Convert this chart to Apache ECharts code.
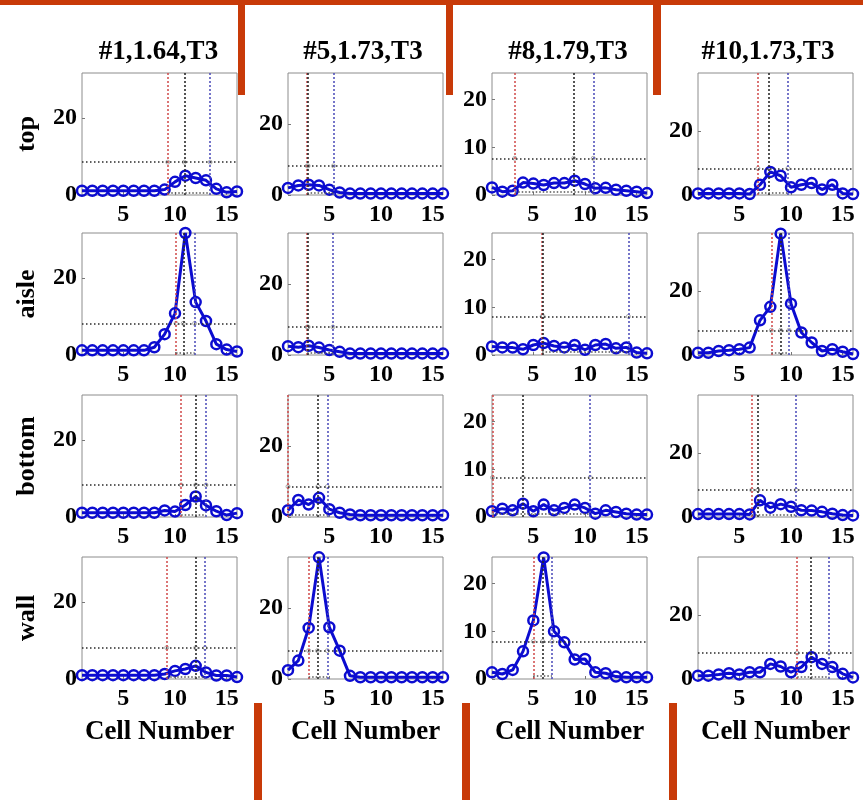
<!DOCTYPE html>
<html><head><meta charset="utf-8">
<script src="https://cdn.jsdelivr.net/npm/echarts@6/dist/echarts.min.js"></script>
<style>html,body{margin:0;padding:0;background:#fff}#c{width:863px;height:800px}</style>
</head><body><div id="c"></div>
<script>
// ---- data ----
const cells = [1,2,3,4,5,6,7,8,9,10,11,12,13,14,15,16];
const titles = ['#1,1.64,T3', '#5,1.73,T3', '#8,1.79,T3', '#10,1.73,T3'];
const rowNames = ['top', 'aisle', 'bottom', 'wall'];
const xAxisName = 'Cell Number';
const xTicks = [5, 10, 15];
const yTicks = [[0, 20], [0, 20], [0, 10, 20], [0, 20]];
const yMax = [31.6, 34.4, 25.6, 38];

// column 1 (#1)
const top_1    = [1.1,1.1,1.1,1.1,1.1,1.1,1.1,1.1,1.4,3.4,5.0,4.4,3.8,1.6,0.7,0.9];
const aisle_1  = [1.2,1.2,1.2,1.2,1.2,1.2,1.2,2.0,5.4,10.8,31.6,13.7,8.8,2.8,1.4,0.9];
const bottom_1 = [1.1,1.1,1.1,1.1,1.1,1.1,1.1,1.1,1.7,1.4,3.1,5.3,3.0,1.5,0.5,1.0];
const wall_1   = [1.0,1.0,1.0,1.0,1.0,1.0,1.0,1.0,1.3,2.1,2.6,3.4,1.7,0.9,0.9,0.5];
// column 2 (#5)
const top_2    = [2.0,2.7,2.9,2.7,1.5,0.7,0.4,0.4,0.4,0.4,0.4,0.4,0.4,0.4,0.4,0.4];
const aisle_2  = [2.5,2.2,2.6,2.1,1.4,0.9,0.4,0.4,0.4,0.4,0.4,0.4,0.4,0.4,0.4,0.4];
const bottom_2 = [1.9,4.8,3.5,5.4,2.2,1.2,0.7,0.5,0.5,0.5,0.5,0.5,0.5,0.5,0.5,0.5];
const wall_2   = [2.5,5.2,14.4,34.3,14.6,8.0,0.9,0.5,0.5,0.5,0.5,0.5,0.5,0.5,0.5,0.5];
// column 3 (#8)
const top_3    = [1.6,0.7,0.9,2.6,2.4,2.1,2.5,2.5,3.0,2.3,1.4,1.5,1.1,0.9,0.7,0.4];
const aisle_3  = [1.8,1.6,1.55,1.2,2.1,2.5,1.9,1.6,2.1,1.1,2.1,2.3,1.4,1.6,0.5,0.35];
const bottom_3 = [1.2,1.75,1.4,2.8,1.2,2.6,1.4,1.9,2.6,1.9,0.7,1.4,1.05,0.7,0.5,0.5];
const wall_3   = [1.4,1.05,1.9,5.8,12.3,25.5,10.0,7.7,4.1,4.2,1.4,1.2,0.5,0.35,0.35,0.35];
// column 4 (#10)
const top_4    = [0.5,0.5,0.5,0.5,0.5,0.3,3.2,7.2,6.0,2.4,3.2,3.7,1.7,3.2,0.5,0.3];
const aisle_4  = [0.7,0.7,1.25,1.5,1.8,2.3,10.8,15.0,37.8,16.0,7.0,3.9,1.25,1.8,1.0,0.3];
const bottom_4 = [0.9,0.9,0.9,0.9,0.9,0.8,5.2,2.9,4.0,3.2,2.1,2.0,1.6,1.0,0.6,0.5];
const wall_4   = [1.05,1.05,1.4,1.8,1.4,2.1,2.1,4.7,3.9,2.1,3.7,6.8,4.7,3.7,1.6,0.5];

// vertical reference lines [red, black, blue] per panel (rows top..wall)
const vlines_1 = [[9.3,10.9,13.4],[10.1,10.8,11.9],[10.6,12.0,13.0],[9.2,12.0,12.9]];
const vlines_2 = [[2.85,2.95,5.4],[2.85,2.95,5.35],[1.0,3.9,4.8],[3.0,3.85,4.8]];
const vlines_3 = [[3.2,8.9,10.8],[5.85,5.95,14.2],[1.05,4.0,10.5],[5.0,5.9,6.8]];
const vlines_4 = [[6.8,7.85,9.7],[8.1,9.0,9.8],[6.2,6.8,10.5],[10.6,11.9,13.7]];
// horizontal threshold per panel (rows top..wall)
const thresh_1 = [8.5, 8.2, 8.3, 8.1];
const thresh_2 = [8.2, 7.9, 8.6, 8.0];
const thresh_3 = [7.7, 8.1, 8.3, 7.9];
const thresh_4 = [8.3, 7.7, 8.4, 8.1];
// low level segment between red and blue lines
const lowLevel = [0.7, 0.7, 0.7, 0.7];

// ---- build ----
const values = [[top_1,aisle_1,bottom_1,wall_1],[top_2,aisle_2,bottom_2,wall_2],[top_3,aisle_3,bottom_3,wall_3],[top_4,aisle_4,bottom_4,wall_4]];
const vlines = [vlines_1, vlines_2, vlines_3, vlines_4];
const thresh = [thresh_1, thresh_2, thresh_3, thresh_4];

const FONT = '"Liberation Serif","Times New Roman",serif';
const BLUE = '#0c0cd0';
const colLeft = [82, 288, 492, 698], colW = 155;
const rowTop = [73, 233, 395, 557], rowH = 122;
const titleX = [158.5, 363, 568, 768];

const grids = [], xAxes = [], yAxes = [], series = [];
for (let r = 0; r < 4; r++) {
  for (let c = 0; c < 4; c++) {
    const idx = grids.length;
    grids.push({left: colLeft[c], top: rowTop[r], width: colW, height: rowH, show: true, borderColor: '#8c8c8c', borderWidth: 1});
    xAxes.push({
      type: 'value', gridIndex: idx, min: 1, max: 16,
      axisLine: {show: false}, splitLine: {show: false},
      axisTick: {show: true, inside: true, length: 3, customValues: xTicks, lineStyle: {color: '#777'}},
      axisLabel: {customValues: xTicks, margin: 8, fontFamily: FONT, fontWeight: 'bold', fontSize: 24, color: '#000'},
      name: r === 3 ? xAxisName : '', nameLocation: 'middle', nameGap: 40,
      nameTextStyle: {fontFamily: FONT, fontWeight: 'bold', fontSize: 27, color: '#000'}
    });
    yAxes.push({
      type: 'value', gridIndex: idx, min: 0, max: yMax[c],
      axisLine: {show: false}, splitLine: {show: false},
      axisTick: {show: true, inside: true, length: 3, customValues: yTicks[c], lineStyle: {color: '#777'}},
      axisLabel: {customValues: yTicks[c], margin: 5, fontFamily: FONT, fontWeight: 'bold', fontSize: 24, color: '#000'},
      name: c === 0 ? rowNames[r] : '', nameLocation: 'middle', nameGap: 42, nameRotate: 90,
      nameTextStyle: {fontFamily: FONT, fontWeight: 'bold', fontSize: 26, color: '#000'}
    });
    const vl = vlines[c][r], th = thresh[c][r];
    series.push({
      type: 'scatter', xAxisIndex: idx, yAxisIndex: idx, silent: true, z: 1,
      data: [[vl[0], th], [vl[1], th], [vl[2], th]],
      symbol: 'circle', symbolSize: 4,
      itemStyle: {color: 'rgba(255,255,255,0)', borderColor: '#999', borderWidth: 1},
      markLine: {
        silent: true, symbol: 'none', label: {show: false}, animation: false,
        data: [
          {xAxis: vl[0], lineStyle: {color: '#d04848', type: [2, 2], width: 1.5}},
          {xAxis: vl[1], lineStyle: {color: '#2a2a2a', type: [2, 2], width: 1.6}},
          {xAxis: vl[2], lineStyle: {color: '#4848b8', type: [2, 2], width: 1.5}},
          {yAxis: th, lineStyle: {color: '#2a2a2a', type: [1.5, 2.5], width: 1.6}},
          [{coord: [vl[0], lowLevel[c]], lineStyle: {color: '#555', type: [1.5, 2], width: 1.5}}, {coord: [vl[2], lowLevel[c]]}]
        ]
      }
    });
    series.push({
      type: 'line', xAxisIndex: idx, yAxisIndex: idx, z: 3, clip: false, silent: true,
      data: values[c][r].map((v, i) => [cells[i], v]),
      symbol: 'circle', symbolSize: 10, showAllSymbol: true,
      lineStyle: {color: BLUE, width: 3},
      itemStyle: {color: 'rgba(255,255,255,0)', borderColor: BLUE, borderWidth: 2.5}
    });
  }
}

const RED = '#c83a08';
const graphics = [
  {type: 'rect', shape: {x: 0, y: 0, width: 863, height: 5}, style: {fill: RED}, z: 10},
  {type: 'rect', shape: {x: 238, y: 0, width: 7, height: 95}, style: {fill: RED}, z: 10},
  {type: 'rect', shape: {x: 446, y: 0, width: 7, height: 95}, style: {fill: RED}, z: 10},
  {type: 'rect', shape: {x: 653, y: 0, width: 8, height: 95}, style: {fill: RED}, z: 10},
  {type: 'rect', shape: {x: 254, y: 703, width: 8, height: 97}, style: {fill: RED}, z: 10},
  {type: 'rect', shape: {x: 462, y: 703, width: 8, height: 97}, style: {fill: RED}, z: 10},
  {type: 'rect', shape: {x: 669, y: 703, width: 8, height: 97}, style: {fill: RED}, z: 10}
];
titles.forEach((t, c) => {
  graphics.push({type: 'text', x: titleX[c], y: 52, z: 10,
    style: {text: t, fontFamily: FONT, fontWeight: 'bold', fontSize: 27, fill: '#000', align: 'center', verticalAlign: 'middle', textAlign: 'center', textVerticalAlign: 'middle'}});
});

const chart = echarts.init(document.getElementById('c'), null, {renderer: 'canvas'});
chart.setOption({
  animation: false,
  backgroundColor: '#fff',
  grid: grids, xAxis: xAxes, yAxis: yAxes, series: series,
  graphic: graphics
});
</script></body></html>
